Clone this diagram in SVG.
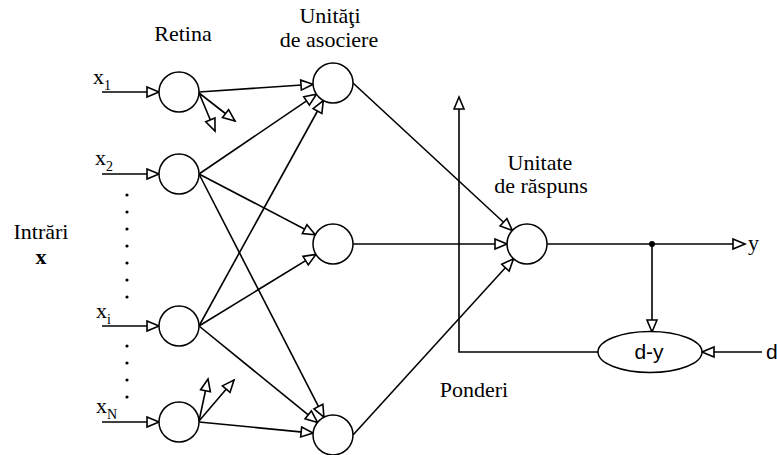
<svg xmlns="http://www.w3.org/2000/svg" width="777" height="455" viewBox="0 0 777 455">
<style>
.n{fill:#fff;stroke:#000;stroke-width:1.5}
.c line,.c path{stroke:#000;stroke-width:1.6;fill:none;marker-end:url(#ah)}
.t{font-family:"Liberation Serif","Times New Roman",serif;font-size:22px;fill:#000}
.s{font-family:"Liberation Serif","Times New Roman",serif;font-size:14px;fill:#000}
.ss{font-family:"Liberation Sans",Arial,sans-serif;font-size:21px;fill:#000}
</style>
<defs>
<marker id="ah" markerUnits="userSpaceOnUse" markerWidth="15" markerHeight="13" refX="13" refY="6" orient="auto" overflow="visible">
<path d="M1,1 L13,6 L1,11 Z" fill="#fff" stroke="#000" stroke-width="1.6"/>
</marker>
</defs>
<rect width="777" height="455" fill="#fff"/>
<g id="connectors" class="c">
<line x1="102" y1="92" x2="159" y2="92"/>
<line x1="102" y1="174" x2="159" y2="174"/>
<line x1="102" y1="326" x2="159" y2="326"/>
<line x1="102" y1="422" x2="159" y2="422"/>
<line x1="199" y1="92" x2="313" y2="84.3"/>
<line x1="199" y1="93" x2="215" y2="131"/>
<line x1="199" y1="93" x2="235" y2="121"/>
<line x1="199" y1="174" x2="316.5" y2="94.2"/>
<line x1="199" y1="174" x2="315.3" y2="234.7"/>
<line x1="199" y1="174" x2="323.9" y2="417.2"/>
<line x1="199" y1="326" x2="323.3" y2="100.5"/>
<line x1="199" y1="326" x2="315.9" y2="254.4"/>
<line x1="199" y1="326" x2="317.5" y2="422.4"/>
<line x1="199" y1="422" x2="313.1" y2="433.1"/>
<line x1="199" y1="421" x2="208" y2="379"/>
<line x1="199" y1="421" x2="234" y2="380"/>
<line x1="353" y1="83" x2="512.3" y2="230.4"/>
<line x1="353" y1="244" x2="507" y2="244"/>
<line x1="353" y1="435" x2="513.5" y2="258.8"/>
<line x1="547" y1="244" x2="745" y2="244"/>
<line x1="652" y1="244" x2="652" y2="332"/>
<line x1="762" y1="352" x2="702" y2="352"/>
<path d="M598,352 L459,352 L459,97"/>
<circle cx="652" cy="244" r="3" fill="#000" stroke="none"/>
</g>
<g id="dots" fill="#000">
<circle cx="127" cy="195" r="1.6"/><circle cx="127" cy="212" r="1.6"/><circle cx="127" cy="229" r="1.6"/><circle cx="127" cy="246" r="1.6"/><circle cx="127" cy="263" r="1.6"/><circle cx="127" cy="280" r="1.6"/><circle cx="127" cy="297" r="1.6"/>
<circle cx="127" cy="346" r="1.6"/><circle cx="127" cy="363" r="1.6"/><circle cx="127" cy="380" r="1.6"/><circle cx="127" cy="397" r="1.6"/>
</g>
<g id="retina1"><circle class="n" cx="179" cy="92" r="20"/></g>
<g id="retina2"><circle class="n" cx="179" cy="174" r="20"/></g>
<g id="retinai"><circle class="n" cx="179" cy="326" r="20"/></g>
<g id="retinaN"><circle class="n" cx="179" cy="422" r="20"/></g>
<g id="assoc1"><circle class="n" cx="333" cy="83" r="20"/></g>
<g id="assoc2"><circle class="n" cx="333" cy="244" r="20"/></g>
<g id="assoc3"><circle class="n" cx="333" cy="435" r="20"/></g>
<g id="response"><circle class="n" cx="527" cy="244" r="20"/></g>
<g id="diff"><ellipse class="n" cx="650" cy="352" rx="52" ry="20.5"/><text class="ss" x="649" y="359" text-anchor="middle">d-y</text></g>
<g id="labels">
<text class="t" x="183" y="41" text-anchor="middle">Retina</text>
<text class="t" x="330" y="23" text-anchor="middle">Unităţi</text>
<text class="t" x="329" y="47" text-anchor="middle">de asociere</text>
<text class="t" x="540" y="170" text-anchor="middle">Unitate</text>
<text class="t" x="541" y="193" text-anchor="middle">de răspuns</text>
<text class="t" x="474" y="397" text-anchor="middle">Ponderi</text>
<text class="t" x="41" y="239" text-anchor="middle">Intrări</text>
<text class="t" x="41" y="264" text-anchor="middle" font-weight="bold">x</text>
<text class="t" x="93" y="84">x</text><text class="s" x="104" y="90">1</text>
<text class="t" x="95" y="165">x</text><text class="s" x="106" y="171">2</text>
<text class="t" x="96" y="318">x</text><text class="s" x="107" y="324">i</text>
<text class="t" x="96" y="413">x</text><text class="s" x="107" y="419">N</text>
<text class="t" x="748" y="250">y</text>
<text class="ss" x="766" y="359">d</text>
</g>
</svg>
